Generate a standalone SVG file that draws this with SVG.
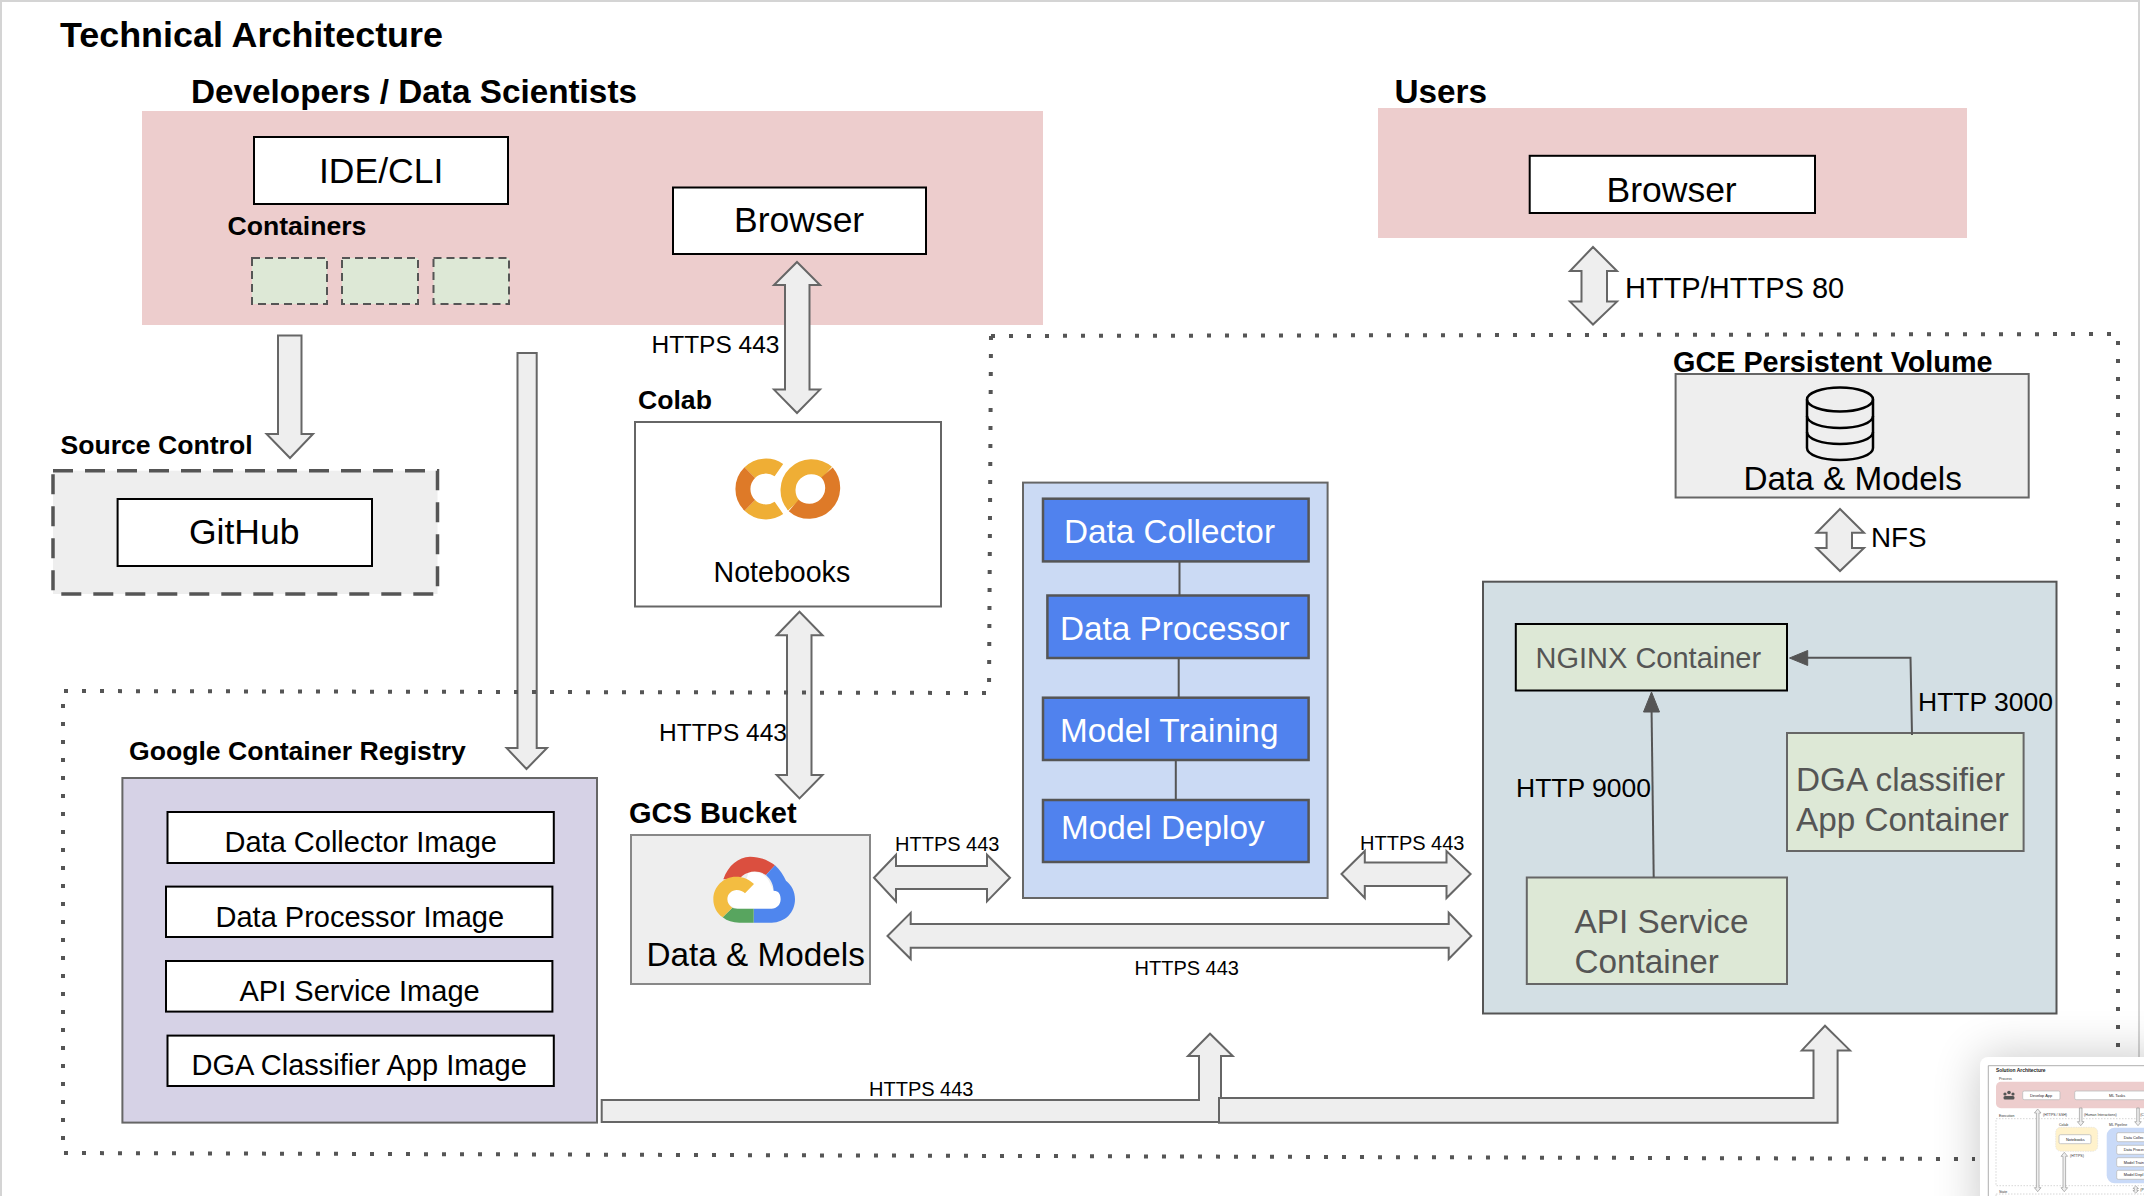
<svg xmlns="http://www.w3.org/2000/svg" width="2144" height="1196" viewBox="0 0 2144 1196">
<style>
text{font-family:"Liberation Sans",Arial,sans-serif;fill:#000}
.b{font-weight:700}
.s35{font-size:35.5px}.s33{font-size:33.3px}.s29{font-size:29px}.s26{font-size:26.6px}.s24{font-size:24.5px}.s20{font-size:20px}
.w{fill:#fff}.g{fill:#555}
.pink{fill:#edcdcd}
.wbox{fill:#fff;stroke:#000;stroke-width:2}
.grey{fill:#eee;stroke:#666;stroke-width:2}
.blue{fill:#5082ee;stroke:#555;stroke-width:2.5}
.green{fill:#dde8d6;stroke:#666;stroke-width:2}
.arrow{fill:#eee;stroke:#666;stroke-width:2;stroke-linejoin:miter}
.line{fill:none;stroke:#555;stroke-width:2}
.dots{fill:none;stroke:#555;stroke-width:4;stroke-dasharray:4 14}
.t{font-size:3.9px;fill:#222}
.l{font-size:3.5px;fill:#333}
.tb{fill:#fff;stroke:#bbb;stroke-width:.8}
.ta{fill:#eee;stroke:#999;stroke-width:.7}
.td{fill:none;stroke:#ccc;stroke-width:.8;stroke-dasharray:1.5 1.5}
</style>
<defs>
<filter id="soft" x="-50%" y="-50%" width="200%" height="200%"><feGaussianBlur stdDeviation="24"/></filter>
<clipPath id="thumbClip"><rect x="1980" y="1057" width="164" height="139"/></clipPath>
</defs>
<rect width="2144" height="1196" fill="#fff"/>
<path d="M1,1196V1H2139V1060" fill="none" stroke="#d4d4d4" stroke-width="2"/>
<text x="60" y="47" class="b" style="font-size:35.9px">Technical Architecture</text>

<g id="developers">
<rect class="pink" x="142" y="111" width="901" height="214"/>
<text x="191" y="102.500" class="b s33">Developers / Data Scientists</text>
</g>
<g id="ide-cli"><rect class="wbox" x="254" y="137" width="254" height="67"/><text x="319" y="183" class="s35">IDE/CLI</text></g>
<g id="containers">
<text x="227.500" y="234.500" class="b s26">Containers</text>
<g fill="#dde8d6" stroke="#555" stroke-width="2" stroke-dasharray="8 5">
<rect x="252" y="258" width="75" height="46"/><rect x="342" y="258" width="76" height="46"/><rect x="433.500" y="258" width="75.500" height="46"/>
</g>
</g>
<g id="dev-browser"><rect class="wbox" x="673" y="187.500" width="253" height="66.500"/><text x="734" y="232" class="s35">Browser</text></g>

<g id="users">
<rect class="pink" x="1378" y="108" width="589" height="130"/>
<text x="1394.500" y="102.500" class="b s33">Users</text>
</g>
<g id="users-browser"><rect class="wbox" x="1529.700" y="155.800" width="285.300" height="57.200"/><text x="1606.500" y="201.500" class="s35">Browser</text></g>

<g id="source-control">
<text x="60.500" y="454" class="b s26">Source Control</text>
<rect x="53" y="470.700" width="384.500" height="123.300" fill="#eee" stroke="#555" stroke-width="3.500" stroke-dasharray="20 12"/>
</g>
<g id="github"><rect class="wbox" x="117.600" y="499" width="254.400" height="67"/><text x="189" y="544" class="s35">GitHub</text></g>

<g id="colab">
<text x="638" y="409" class="b s26">Colab</text>
<rect x="635" y="422" width="306" height="184.500" fill="#fff" stroke="#666" stroke-width="2"/>
<g fill="none" stroke-width="15">
<path d="M749.800,472.600A23,23 0 0 1 778.900,470.200" stroke="#efae35"/>
<path d="M749.800,505.400A23,23 0 0 0 778.900,507.800" stroke="#efae35"/>
<path d="M749.800,472.600A23,23 0 0 0 749.800,505.400" stroke="#de7a28"/>
<path d="M793.700,505.500A23.500,23.500 0 0 1 827,472.500" stroke="#efae35"/>
<path d="M827,472.500A23.500,23.500 0 0 1 793.700,505.500" stroke="#de7a28"/>
</g>
<text x="713.500" y="581.500" style="font-size:28.600px">Notebooks</text>
</g>

<g id="ml-pipeline"><rect x="1023" y="482.600" width="304.600" height="415.400" fill="#cbdaf4" stroke="#666" stroke-width="2"/></g>
<g id="data-collector"><rect class="blue" x="1043" y="498.700" width="265.600" height="62.700"/><text x="1064" y="542.500" class="w s33">Data Collector</text></g>
<g id="data-processor"><rect class="blue" x="1047.400" y="595.500" width="261.200" height="62.500"/><text x="1060" y="640" class="w s33">Data Processor</text></g>
<g id="model-training"><rect class="blue" x="1043" y="697.700" width="265.600" height="62.300"/><text x="1060" y="741.500" class="w s33">Model Training</text></g>
<g id="model-deploy"><rect class="blue" x="1043" y="800" width="265.600" height="62"/><text x="1061" y="838.500" class="w s33">Model Deploy</text></g>

<g id="gce-volume">
<text x="1673" y="372" class="b" style="font-size:28.800px">GCE Persistent Volume</text>
<rect class="grey" x="1675.600" y="374" width="353.100" height="123.500"/>
<g fill="none" stroke="#000" stroke-width="2.500">
<ellipse cx="1840" cy="399.500" rx="33" ry="12"/>
<path d="M1807,399.500V448C1807,455 1822,460 1840,460S1873,455 1873,448V399.500"/>
<path d="M1807,416C1807,423 1822,428 1840,428S1873,423 1873,416"/>
<path d="M1807,432C1807,439 1822,444 1840,444S1873,439 1873,432"/>
</g>
<text x="1743.500" y="490" class="s33">Data &amp; Models</text>
</g>

<g id="app-host"><rect x="1483" y="581.700" width="573.500" height="431.800" fill="#d3dfe4" stroke="#555" stroke-width="2"/></g>
<g id="nginx"><rect x="1515.800" y="624" width="271.200" height="66.500" fill="#dde8d6" stroke="#000" stroke-width="2"/><text x="1535.500" y="667.500" class="g s29">NGINX Container</text></g>
<g id="dga-app"><rect class="green" x="1787" y="733" width="236.600" height="118"/><text class="g s33"><tspan x="1796" y="791">DGA classifier</tspan><tspan x="1796" y="831">App Container</tspan></text></g>
<g id="api-service"><rect class="green" x="1526.800" y="877.500" width="260.200" height="106.500"/><text class="g s33"><tspan x="1574.500" y="932.500">API Service</tspan><tspan x="1574.500" y="972.500">Container</tspan></text></g>

<g id="registry">
<text x="129" y="759.500" class="b s26">Google Container Registry</text>
<rect x="122.400" y="778" width="474.600" height="344.600" fill="#d6d2e6" stroke="#666" stroke-width="2"/>
</g>
<g id="img-collector"><rect class="wbox" x="167.500" y="812" width="386.300" height="51"/><text x="224.500" y="852" class="s29">Data Collector Image</text></g>
<g id="img-processor"><rect class="wbox" x="166" y="886.600" width="386.400" height="50.400"/><text x="215.500" y="927" class="s29">Data Processor Image</text></g>
<g id="img-api"><rect class="wbox" x="166" y="961" width="386.400" height="50.600"/><text x="239.500" y="1001" class="s29">API Service Image</text></g>
<g id="img-dga"><rect class="wbox" x="167.500" y="1035.600" width="386.300" height="50.400"/><text x="191.500" y="1075" class="s29">DGA Classifier App Image</text></g>

<g id="gcs-bucket">
<text x="629" y="823" class="b" style="font-size:29px">GCS Bucket</text>
<rect x="631" y="835" width="239" height="149" fill="#eee" stroke="#888" stroke-width="2"/>
<g transform="translate(680 840) scale(.3333)">
<path fill="#fff" d="M205,98C235,90 262,105 270,130L281,152C298,152 302,165 302,178C302,195 290,206 275,206L178,206C160,206 142,195 142,178C142,162 155,150 170,150C190,150 200,120 205,98Z"/>
<path fill="#db4f3f" d="M130,118C145,75 175,52 210,50C240,50 265,60 285,76L258,105C240,93 220,92 205,98C190,103 182,110 178,118Z"/>
<path fill="#4f86ee" d="M285,76L258,105C272,118 280,132 281,152C298,152 302,165 302,178C302,195 290,206 275,206L221,206L221,248L275,248C315,248 345,218 345,178C345,155 335,135 318,122C310,105 300,90 285,76Z"/>
<path fill="#58a55f" d="M128,232L157,203C162,205 170,206 178,206L221,206L221,248L178,248C158,248 142,243 128,232Z"/>
<path fill="#f3bd41" d="M222,132C205,117 190,110 168,110C130,110 100,140 100,178C100,200 110,220 128,232L157,203C148,198 142,188 142,178C142,162 155,150 170,150C180,150 190,155 195,160Z"/>
</g>
<text x="646.500" y="965.500" class="s33">Data &amp; Models</text>
</g>

<g id="connectors">
<path class="line" d="M1179.500,561.400V595.500M1178.700,658V697.700M1175.800,760V800"/>
<path class="arrow" d="M278,335.600H301.500V434H313L290,458L266.600,434H278Z"/>
<path class="arrow" d="M517.500,353H536.700V748H547L526.500,769L506.600,748H517.500Z"/>
<path class="arrow" d="M797,262L820,285H809.500V389.600H820L797,413L774,389.600H785V285H774Z"/>
<path class="arrow" d="M799.500,611.800L822.500,635.300H811.500V775H822.500L799.500,798.400L776.700,775H787V635.300H776.700Z"/>
<path class="arrow" d="M1593,247L1617,271H1607V301.600H1617L1593,324.500L1570,301.600H1581.500V271H1570Z"/>
<path class="arrow" d="M1840,509L1864,532.700H1852V548H1864L1840,571L1816.500,548H1826.600V532.700H1816.500Z"/>
<path class="arrow" d="M874,877.800L896,854.700V866H987V854.700L1010,877.800L987,901.400V889H896V901.400Z"/>
<path class="arrow" d="M1341.500,874L1364.800,851V862.600H1446.500V851L1470.600,874L1446.500,898V886H1364.800V898Z"/>
<path class="arrow" d="M887.500,936L910.700,912.800V924H1448.700V912.800L1471.300,936L1448.700,959V947.800H910.700V959Z"/>
<path class="arrow" d="M601.700,1100H1199V1056H1188L1210,1033.700L1232.700,1056H1221V1122H601.700Z"/>
<path class="arrow" d="M1219,1098H1813.500V1050.400H1801.800L1825,1025.700L1850,1050.400H1837.600V1122.700H1219Z"/>
<path class="line" d="M1912,735L1910.500,657.800H1800"/>
<path d="M1789.500,658L1807.700,650.500V665.500Z" fill="#555" stroke="#555"/>
<path class="line" d="M1653.700,877.500L1651.500,705"/>
<path d="M1651.500,692L1659.500,712H1643.500Z" fill="#555" stroke="#555"/>
<path class="dots" d="M991,336L2118,334V1060"/>
<path class="dots" d="M991,336L989,693L63,691V1153L1975,1159"/>
<text x="651.500" y="353" class="s24">HTTPS 443</text>
<text x="659" y="741" class="s24">HTTPS 443</text>
<text x="1625" y="297.500" class="s29">HTTP/HTTPS 80</text>
<text x="1871" y="546.500" style="font-size:27.800px">NFS</text>
<text x="895" y="851" class="s20">HTTPS 443</text>
<text x="1360" y="850" class="s20">HTTPS 443</text>
<text x="1134.500" y="975" class="s20">HTTPS 443</text>
<text x="869" y="1096" class="s20">HTTPS 443</text>
<text x="1918" y="711" style="font-size:26.500px">HTTP 3000</text>
<text x="1516" y="797" style="font-size:26.500px">HTTP 9000</text>
</g>

<g id="thumbnail">
<rect x="1980" y="1057" width="200" height="180" rx="8" fill="#000" opacity=".22" filter="url(#soft)"/>
<rect x="1980" y="1057" width="200" height="180" rx="8" fill="#fff"/>
<g clip-path="url(#thumbClip)">
<path d="M1988.300,1200V1065.700H2144" fill="none" stroke="#999" stroke-width=".8"/>
<text x="1996" y="1072" class="b" style="font-size:4.900px;fill:#222">Solution Architecture</text>
<text x="1999" y="1080" class="l">Process</text>
<rect x="1996" y="1081.700" width="170" height="26.600" rx="5" fill="#edcdcd"/>
<g fill="#555"><circle cx="2005" cy="1094" r="1.600"/><circle cx="2009" cy="1092.500" r="1.800"/><circle cx="2013" cy="1094" r="1.600"/><rect x="2003.500" y="1096" width="11" height="3.500" rx="1.500"/></g>
<rect class="tb" x="2022.700" y="1091" width="37.300" height="8.700" rx="1.500"/><text x="2030" y="1096.800" class="t">Develop App</text>
<rect class="tb" x="2074.700" y="1091" width="90" height="8.700" rx="1.500"/><text x="2109" y="1096.800" class="t">ML Tasks</text>
<text x="2043" y="1115.500" class="l">(HTTPS / SSH)</text>
<text x="2084" y="1115.500" class="l">(Human Interactions)</text>
<text x="2140.200" y="1115.500" class="l">(C</text>
<text x="1999" y="1117" class="l">Execution</text>
<rect class="td" x="1996" y="1118.700" width="170" height="67"/>
<text x="2059" y="1126" class="l">Colab</text>
<text x="2109" y="1126" class="l">ML Pipeline</text>
<rect x="2055.700" y="1127.300" width="42" height="24" rx="5" fill="#fff2cc" stroke="#ddd" stroke-width=".6" stroke-dasharray="1.500 1"/>
<rect class="tb" x="2059" y="1134.700" width="32" height="9" rx="1.500"/><text x="2066" y="1140.500" class="t">Notebooks</text>
<rect x="2106.700" y="1127.700" width="60" height="55.600" rx="8" fill="#c9daf8"/>
<rect class="tb" x="2116.700" y="1132.700" width="40" height="9" rx="1.500"/><text x="2123.700" y="1138.500" class="t">Data Collec</text>
<rect class="tb" x="2116.700" y="1145.300" width="40" height="9" rx="1.500"/><text x="2123.700" y="1151" class="t">Data Proces</text>
<rect class="tb" x="2116.700" y="1157.700" width="40" height="9" rx="1.500"/><text x="2123.700" y="1163.700" class="t">Model Train</text>
<rect class="tb" x="2116.700" y="1170.300" width="40" height="9" rx="1.500"/><text x="2123.700" y="1176" class="t">Model Depl</text>
<text x="2070" y="1156.500" class="l">(HTTPS)</text>
<path class="ta" d="M2037.700,1109L2041,1113H2039V1187.700H2041L2037.700,1191.700L2034.400,1187.700H2036.400V1113H2034.400Z"/>
<path class="ta" d="M2079.400,1108H2082V1121.700H2084L2080.700,1125.700L2077.400,1121.700H2079.400Z"/>
<path class="ta" d="M2136.700,1108H2139.300V1121.700H2141.300L2138,1125.700L2134.700,1121.700H2136.700Z"/>
<path class="ta" d="M2064.300,1152.300L2067.600,1156.300H2065.600V1187.700H2067.600L2064.300,1191.700L2061,1187.700H2063V1156.300H2061Z"/>
<path class="ta" d="M2135.700,1186L2138.500,1188.500H2137V1190.500H2138.500L2135.700,1193L2132.900,1190.500H2134.400V1188.500H2132.900Z"/>
<text x="2140.300" y="1191" class="l">(P</text>
<text x="1999" y="1193" class="l">State</text>
<rect class="td" x="1996" y="1194" width="170" height="20"/>
</g>
</g>
</svg>
